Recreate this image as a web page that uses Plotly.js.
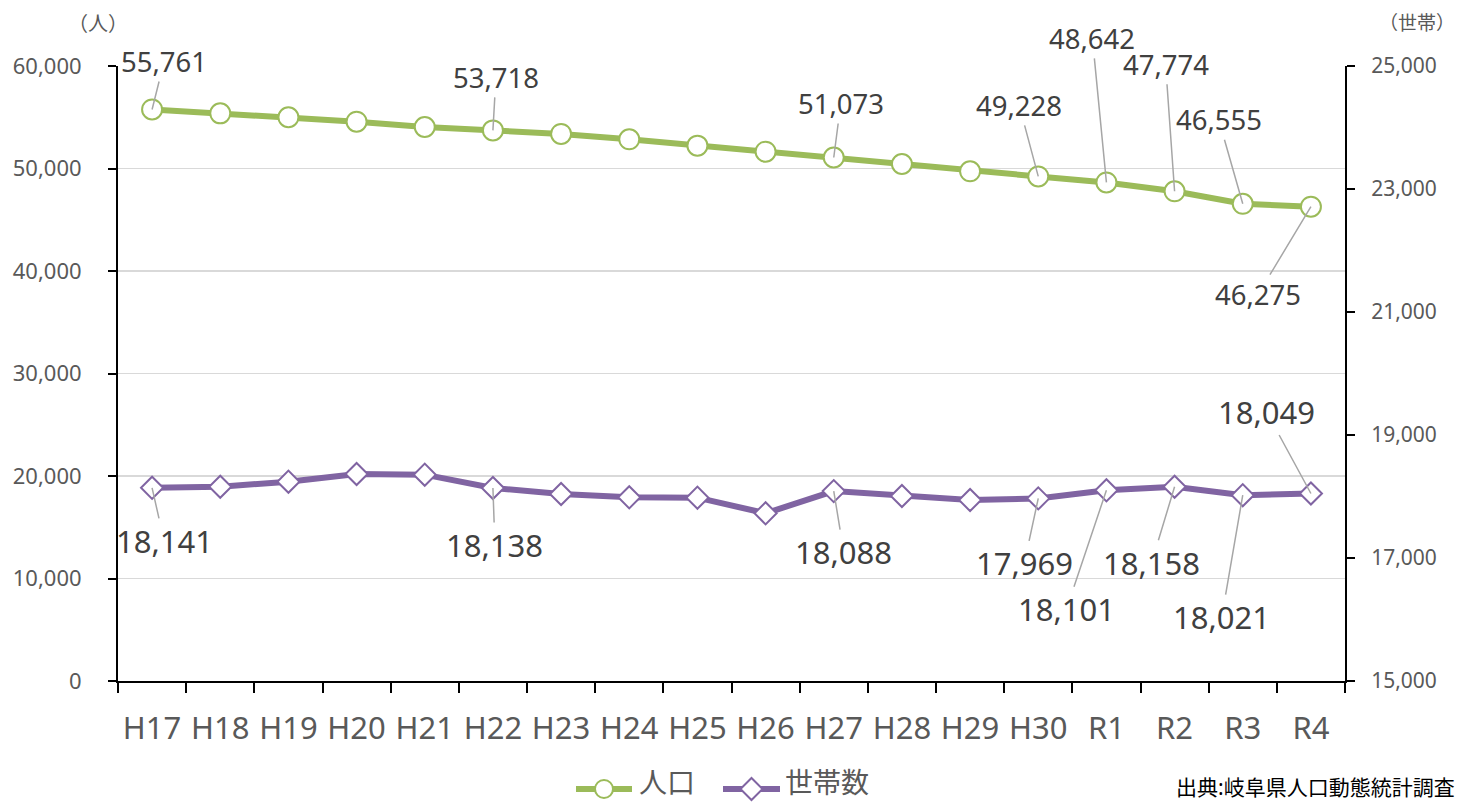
<!DOCTYPE html>
<html>
<head>
<meta charset="utf-8">
<script src="https://cdn.plot.ly/plotly-3.0.1.min.js"></script>
<style>
html,body{margin:0;padding:0;background:#fff;}
#chart{width:1458px;height:803px;}
</style>
</head>
<body>
<div id="chart"></div>
<script>
// ---- data ----
const years = ['H17','H18','H19','H20','H21','H22','H23','H24','H25','H26','H27','H28','H29','H30','R1','R2','R3','R4'];
const population = [55761, 55380, 55000, 54570, 54050, 53718, 53370, 52850, 52230, 51640, 51073, 50440, 49730, 49228, 48642, 47774, 46555, 46275];
const households = [18141, 18159, 18241, 18366, 18355, 18138, 18041, 17987, 17981, 17727, 18088, 18008, 17943, 17969, 18101, 18158, 18021, 18049];
const seriesNames = ['人口', '世帯数'];
const labeledIdx = [0, 5, 10, 13, 14, 15, 16, 17];
const leftTitle = '（人）';
const rightTitle = '（世帯）';
const sourceText = '出典:岐阜県人口動態統計調査';

// ---- label offsets (px) ----
const popOffsets = {0:[12,-48],5:[3,-53],10:[7,-54],13:[-19,-71],14:[-14,-144],15:[-9,-127],16:[-24,-84],17:[-53,88]};
const hhOffsets  = {0:[12,53],5:[2,57],10:[10,61],13:[-14,65],14:[-40,119],15:[-23,76],16:[-21,122],17:[-44,-81]};

const W = 1458, H = 803;
const M = {l:118, r:113, t:66, b:122};
const pw = W - M.l - M.r, ph = H - M.t - M.b;
const px2x = p => (p - M.l) / pw;
const py2y = p => (H - M.b - p) / ph;

const FONT = 'Noto Sans, Noto Sans CJK JP, sans-serif';
const GREEN = '#9BBB59', PURPLE = '#8064A2';
const fmt = v => v.toLocaleString('en-US');

const traces = [
  {
    x: years, y: population, name: seriesNames[0], type: 'scatter', mode: 'lines+markers',
    yaxis: 'y', showlegend: false,
    line: {color: GREEN, width: 6},
    marker: {symbol: 'circle', size: 20, color: '#ffffff', line: {color: GREEN, width: 2}}
  },
  {
    x: years, y: households, name: seriesNames[1], type: 'scatter', mode: 'lines+markers',
    yaxis: 'y2', showlegend: false,
    line: {color: PURPLE, width: 6},
    marker: {symbol: 'diamond', size: 17, color: '#ffffff', line: {color: PURPLE, width: 2}}
  }
];

const annotations = [];
labeledIdx.forEach(i => {
  const po = popOffsets[i];
  annotations.push({
    x: years[i], y: population[i], xref: 'x', yref: 'y',
    text: fmt(population[i]), showarrow: true, arrowhead: 0, arrowwidth: 1.5, arrowcolor: '#a6a6a6',
    ax: po[0], ay: po[1], standoff: 0,
    font: {family: FONT, size: 27.5, color: '#404040'}
  });
  const ho = hhOffsets[i];
  annotations.push({
    x: years[i], y: households[i], xref: 'x', yref: 'y2',
    text: fmt(households[i]), showarrow: true, arrowhead: 0, arrowwidth: 1.5, arrowcolor: '#a6a6a6',
    ax: ho[0], ay: ho[1], standoff: 0,
    font: {family: FONT, size: 31, color: '#404040'}
  });
});
annotations.push({
  xref: 'paper', yref: 'paper', x: px2x(98), y: py2y(23), xanchor: 'center', yanchor: 'middle',
  text: leftTitle, showarrow: false, font: {family: FONT, size: 20, color: '#595959'}
});
annotations.push({
  xref: 'paper', yref: 'paper', x: px2x(1456), y: py2y(23), xanchor: 'right', yanchor: 'middle',
  text: rightTitle, showarrow: false, borderpad: 0, font: {family: FONT, size: 19, color: '#595959'}
});
annotations.push({
  xref: 'paper', yref: 'paper', x: px2x(1175), y: py2y(802), xanchor: 'left', yanchor: 'bottom',
  text: sourceText, showarrow: false, borderpad: 0, font: {family: FONT, size: 21, color: '#000000'}
});

// ---- custom legend (line + marker sample + label) ----
const legY = 789;
const legItems = [
  {x0: 576, x1: 632, color: GREEN, symbol: 'circle', textX: 638},
  {x0: 723, x1: 780, color: PURPLE, symbol: 'diamond', textX: 784}
];
const shapes = [];
legItems.forEach((it, k) => {
  shapes.push({type: 'line', xref: 'paper', yref: 'paper',
    x0: px2x(it.x0), x1: px2x(it.x1), y0: py2y(legY), y1: py2y(legY),
    line: {color: it.color, width: 6}});
  const cx = (it.x0 + it.x1) / 2;
  if (it.symbol === 'circle') {
    const r = 9;
    shapes.push({type: 'circle', xref: 'paper', yref: 'paper',
      x0: px2x(cx - r), x1: px2x(cx + r), y0: py2y(legY + r), y1: py2y(legY - r),
      fillcolor: '#ffffff', line: {color: it.color, width: 2}});
  } else {
    const r = 11;
    const p = [[cx - r, legY], [cx, legY - r], [cx + r, legY], [cx, legY + r]]
      .map(q => px2x(q[0]) + ',' + py2y(q[1]));
    shapes.push({type: 'path', xref: 'paper', yref: 'paper',
      path: 'M' + p.join(' L') + ' Z',
      fillcolor: '#ffffff', line: {color: it.color, width: 2}});
  }
  annotations.push({
    xref: 'paper', yref: 'paper', x: px2x(it.textX), y: py2y(802), xanchor: 'left', yanchor: 'bottom',
    text: seriesNames[k], showarrow: false, borderpad: 0, font: {family: FONT, size: 28, color: '#595959'}
  });
});

const layout = {
  width: W, height: H,
  margin: M,
  paper_bgcolor: '#ffffff', plot_bgcolor: '#ffffff',
  font: {family: FONT, color: '#595959'},
  showlegend: false,
  xaxis: {
    type: 'category', range: [-0.5, 17.5], tickson: 'boundaries', tickangle: 0, automargin: false,
    ticks: 'outside', ticklen: 10, tickwidth: 2, tickcolor: '#000',
    showline: true, linecolor: '#000', linewidth: 2, showgrid: false, zeroline: false,
    tickfont: {family: FONT, size: 31, color: '#595959'}, ticklabelstandoff: 19
  },
  yaxis: {
    range: [0, 60000], dtick: 10000, tick0: 0, tickformat: ',d', automargin: false,
    ticks: 'outside', ticklen: 8, tickwidth: 2, tickcolor: '#000',
    showline: true, linecolor: '#000', linewidth: 2,
    showgrid: true, gridcolor: '#d9d9d9', gridwidth: 1.8, zeroline: false,
    tickfont: {family: FONT, size: 22, color: '#595959'}, ticklabelstandoff: 22
  },
  yaxis2: {
    overlaying: 'y', side: 'right', range: [15000, 25000], dtick: 2000, tick0: 15000, tickformat: ',d', automargin: false,
    ticks: 'outside', ticklen: 8, tickwidth: 2, tickcolor: '#000',
    showline: true, linecolor: '#000', linewidth: 2, showgrid: false, zeroline: false,
    tickfont: {family: FONT, size: 21, color: '#595959'}, ticklabelstandoff: 12
  },
  shapes: shapes,
  annotations: annotations
};

Plotly.newPlot('chart', traces, layout, {displayModeBar: false, staticPlot: true});
</script>
</body>
</html>
